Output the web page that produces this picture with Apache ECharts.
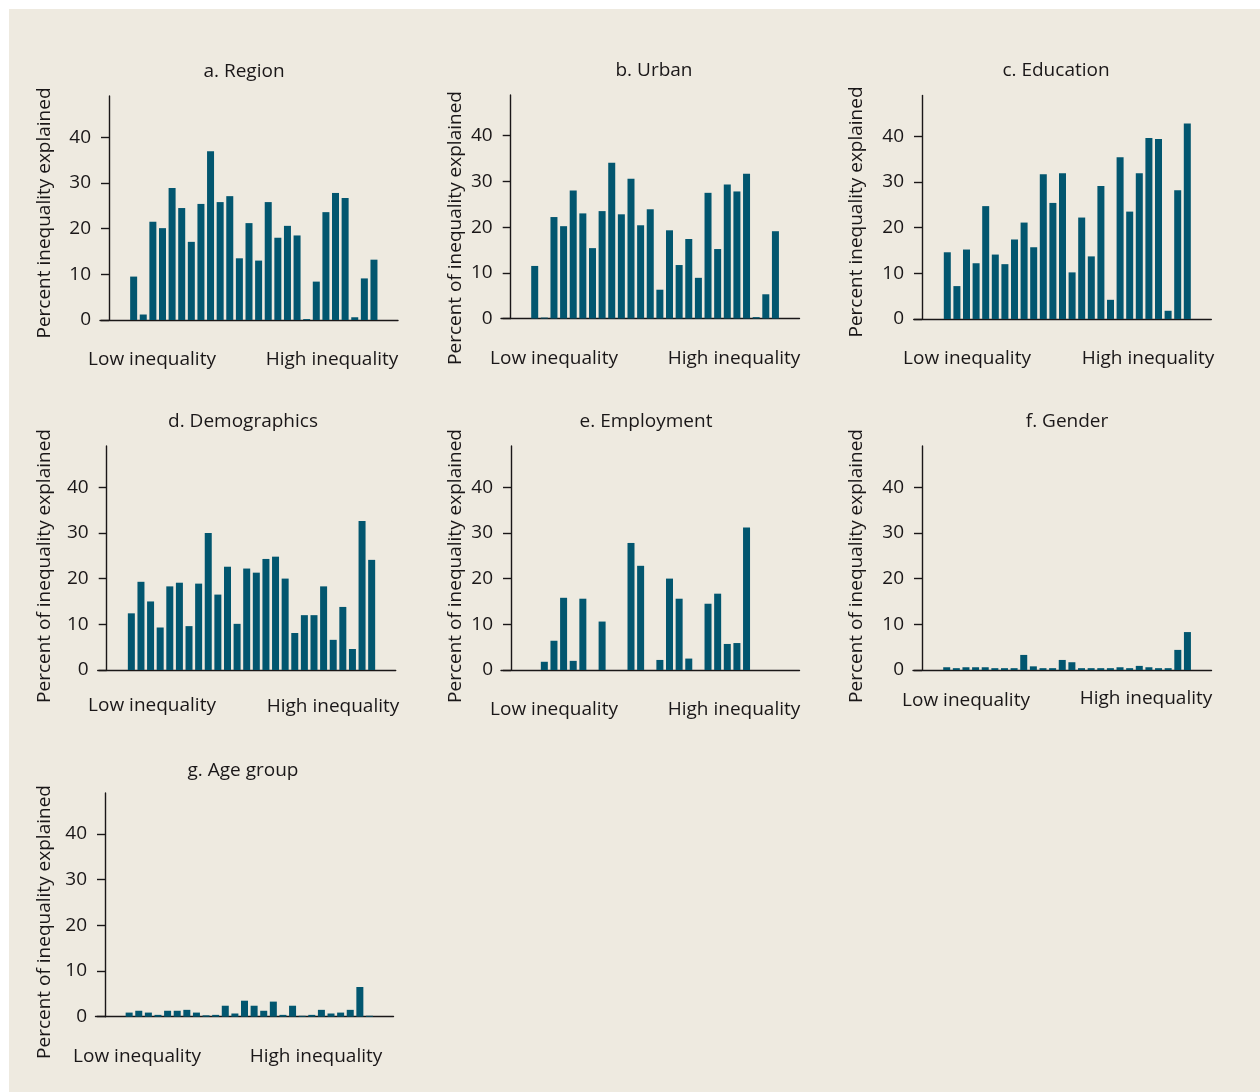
<!DOCTYPE html>
<html>
<head>
<meta charset="utf-8">
<script src="https://cdn.jsdelivr.net/npm/echarts@6/dist/echarts.min.js"></script>
<style>
html,body{margin:0;padding:0;background:#ffffff;}
#bg{position:absolute;left:9px;top:9px;width:1251px;height:1083px;background:#EEEAE0;}
#c{position:absolute;left:0;top:0;width:1260px;height:1092px;}
</style>
</head>
<body>
<div id="bg"></div>
<div id="c"></div>
<script>
// 31 ranked positions, from low inequality to high inequality
var categories = ['1','2','3','4','5','6','7','8','9','10','11','12','13','14','15','16','17','18','19','20','21','22','23','24','25','26','27','28','29','30','31'];
var yTicks = [0, 10, 20, 30, 40];

var region = [null,null,null,9.5,1.2,21.5,20.1,28.9,24.5,17.1,25.4,36.9,25.8,27.1,13.5,21.2,13.0,25.8,18.0,20.6,18.5,0.2,8.4,23.6,27.8,26.7,0.6,9.1,13.2,null,null];
var urban = [null,null,null,11.5,0.2,22.2,20.2,28.0,23.0,15.4,23.5,34.1,22.8,30.6,20.4,23.9,6.3,19.3,11.7,17.4,8.9,27.5,15.2,29.3,27.8,31.7,0.3,5.3,19.1,null,null];
var education = [null,null,null,14.6,7.2,15.2,12.2,24.7,14.1,12.0,17.4,21.1,15.7,31.7,25.4,31.9,10.2,22.2,13.7,29.1,4.2,35.4,23.5,31.9,39.6,39.4,1.8,28.2,42.8,null,null];
var demographics = [null,null,null,12.4,19.3,15.0,9.3,18.3,19.1,9.6,18.9,30.0,16.5,22.6,10.1,22.2,21.3,24.3,24.8,20.0,8.1,12.0,12.0,18.3,6.6,13.8,4.6,32.6,24.1,null,null];
var employment = [null,null,null,null,1.8,6.4,15.8,2.0,15.6,null,10.6,null,null,27.8,22.8,null,2.2,20.0,15.6,2.5,null,14.5,16.7,5.7,5.9,31.2,null,null,null,null,null];
var gender = [null,null,null,0.6,0.4,0.6,0.6,0.6,0.4,0.4,0.4,3.3,0.8,0.4,0.4,2.2,1.7,0.4,0.4,0.4,0.4,0.6,0.4,0.9,0.6,0.4,0.4,4.4,8.3,null,null];
var ageGroup = [null,null,null,0.9,1.3,0.9,0.4,1.3,1.3,1.5,0.9,0.3,0.4,2.4,0.7,3.5,2.4,1.3,3.3,0.4,2.4,0.2,0.4,1.5,0.7,0.9,1.5,6.5,0.2,null,null];

var titles = ['a. Region','b. Urban','c. Education','d. Demographics','e. Employment','f. Gender','g. Age group'];
var yNames = ['Percent inequality explained','Percent of inequality explained','Percent inequality explained','Percent of inequality explained','Percent of inequality explained','Percent of inequality explained','Percent of inequality explained'];
var lowLabel = 'Low inequality';
var highLabel = 'High inequality';

var seriesData = [region, urban, education, demographics, employment, gender, ageGroup];

// layout per panel
var panels = [
  {left:100,   width:298,   top:96,   height:224,   off:-9,   title:[244,72],  yname:[45,213],  low:[152,360], high:[332,360]},
  {left:501,   width:298.5, top:95,   height:223.5, off:-9.7, title:[654,71],  yname:[456,228], low:[554,359], high:[734,359]},
  {left:913.7, width:297.6, top:95.5, height:223.5, off:-8.3, title:[1056,71], yname:[857,212], low:[967,359], high:[1148,359]},
  {left:97.7,  width:298,   top:446,  height:224,   off:-9,   title:[243,422], yname:[45,566],  low:[152,706], high:[333,707]},
  {left:501,   width:298.5, top:446,  height:224,   off:-10,  title:[646,422], yname:[456,566], low:[554,710], high:[734,710]},
  {left:913,   width:298.5, top:446,  height:224,   off:-9,   title:[1067,422],yname:[857,566], low:[966,701], high:[1146,699]},
  {left:95.5,  width:298,   top:793,  height:223.7, off:-9.5, title:[243,771], yname:[45,922],  low:[137,1057],high:[316,1057]}
];

var FONT = '"Open Sans", "Noto Sans", sans-serif';
var FS = 19;
var INK = '#1a1718';
var BAR = '#02566F';

var grids = [], xAxes = [], yAxes = [], series = [], graphics = [];
panels.forEach(function(p, i){
  grids.push({left:p.left, top:p.top, width:p.width, height:p.height, containLabel:false});
  xAxes.push({
    type:'category', gridIndex:i, data:categories,
    axisLine:{show:true, lineStyle:{color:INK, width:1.4}},
    axisTick:{show:false}, axisLabel:{show:false}, splitLine:{show:false}
  });
  var ymax = p.height / 4.57;
  yAxes.push({
    type:'value', gridIndex:i, min:0, max:ymax, offset:p.off,
    axisLine:{show:true, onZero:false, lineStyle:{color:INK, width:1.4}},
    axisTick:{show:true, length:8, customValues:yTicks, lineStyle:{color:INK, width:1.4}},
    axisLabel:{show:true, customValues:yTicks, margin:18, fontSize:FS, fontFamily:FONT, color:INK},
    splitLine:{show:false}
  });
  series.push({
    type:'bar', xAxisIndex:i, yAxisIndex:i, data:seriesData[i],
    barWidth:7, itemStyle:{color:BAR}, silent:true, animation:false
  });
  var f = FS + 'px ' + FONT;
  graphics.push({type:'text', x:p.title[0], y:p.title[1], style:{text:titles[i], font:f, fill:INK, textAlign:'center', textVerticalAlign:'middle'}});
  graphics.push({type:'text', x:p.yname[0], y:p.yname[1], rotation:Math.PI/2, style:{text:yNames[i], font:f, fill:INK, textAlign:'center', textVerticalAlign:'middle'}});
  graphics.push({type:'text', x:p.low[0], y:p.low[1], style:{text:lowLabel, font:f, fill:INK, textAlign:'center', textVerticalAlign:'middle'}});
  graphics.push({type:'text', x:p.high[0], y:p.high[1], style:{text:highLabel, font:f, fill:INK, textAlign:'center', textVerticalAlign:'middle'}});
});

var chart = echarts.init(document.getElementById('c'), null, {renderer:'canvas'});
chart.setOption({
  animation:false,
  backgroundColor:'transparent',
  grid:grids, xAxis:xAxes, yAxis:yAxes, series:series,
  graphic:{elements:graphics}
});
</script>
</body>
</html>
